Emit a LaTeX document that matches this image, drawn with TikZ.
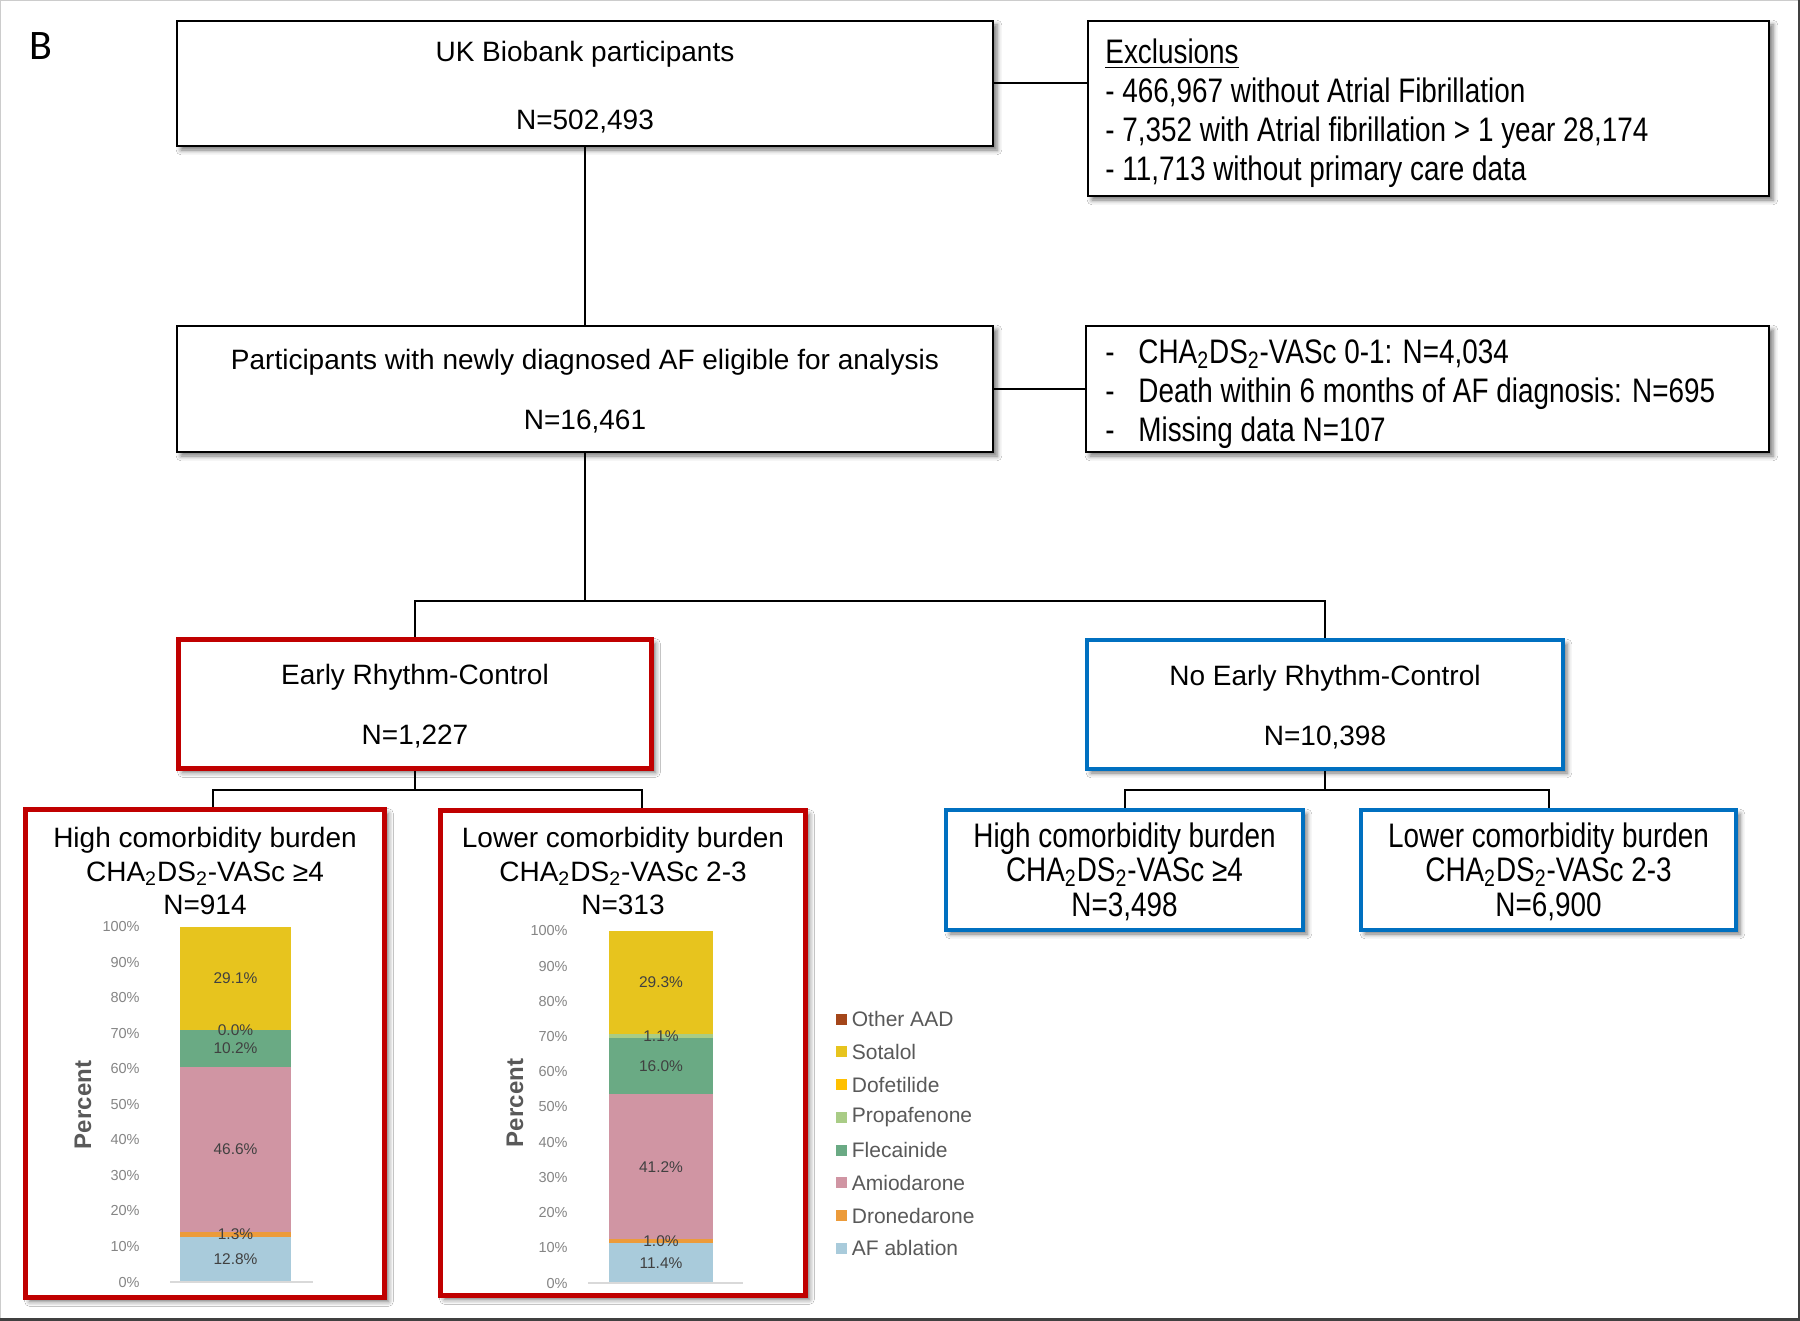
\documentclass[tikz,border=0pt]{standalone}
\usepackage{fontspec}
\setmainfont{Liberation Sans}
\newfontfamily\narrowfont[FakeStretch=0.82]{Liberation Sans}
\newfontfamily\panelfont{Carlito}
\usetikzlibrary{fit,shadows.blur}
\definecolor{redc}{HTML}{C00000}
\definecolor{bluec}{HTML}{0070C0}
\definecolor{cAbl}{HTML}{A9CBDB}
\definecolor{cDro}{HTML}{EC9B3A}
\definecolor{cAmi}{HTML}{D095A3}
\definecolor{cFle}{HTML}{6AAA84}
\definecolor{cPro}{HTML}{A9CC86}
\definecolor{cDof}{HTML}{FFC000}
\definecolor{cSot}{HTML}{E7C41E}
\definecolor{cOth}{HTML}{A4461A}
\definecolor{txtgray}{HTML}{595959}
\definecolor{tickgray}{HTML}{858585}
\definecolor{dlabc}{HTML}{404040}
\tikzset{
  shad/.style={blur shadow={shadow xshift=2pt, shadow yshift=-2pt, shadow blur radius=2.4pt, shadow opacity=55}},
  blackbox/.style={draw=black, line width=1pt, fill=white, inner sep=0pt, shad},
  redbox/.style={draw=redc, line width=2.6pt, fill=white, inner sep=0pt, shad},
  bluebox/.style={draw=bluec, line width=2.1pt, fill=white, inner sep=0pt, shad},
  conn/.style={line width=1pt, draw=black},
  regtxt/.style={font=\fontsize{14pt}{30pt}\selectfont, align=center, inner sep=0pt},
  listtxt/.style={font=\narrowfont\fontsize{17pt}{19.5pt}\selectfont, align=left, anchor=west, inner sep=0pt},
  titletxt/.style={font=\fontsize{14pt}{16.75pt}\selectfont, align=center, inner sep=0pt},
  narrowtxt/.style={font=\narrowfont\fontsize{17pt}{17.25pt}\selectfont, align=center, inner sep=0pt},
  ticklab/.style={font=\fontsize{7.25pt}{8pt}\selectfont, text=tickgray, anchor=east, inner sep=0pt},
  datalab/.style={font=\fontsize{7.75pt}{8pt}\selectfont, text=dlabc, inner sep=0pt},
  pctlab/.style={font=\bfseries\fontsize{12pt}{13pt}\selectfont, text=txtgray, rotate=90, inner sep=0pt},
  legtxt/.style={font=\fontsize{10.5pt}{12pt}\selectfont, text=txtgray, anchor=west, inner sep=0pt},
  legsq/.style={minimum size=5.5pt, inner sep=0pt},
  axisline/.style={draw=black!15, line width=0.6pt}
}
\newcommand{\two}{\textsubscript{2}}
\newcommand{\dashitem}{\makebox[16.5pt][l]{-}}
\begin{document}
\begin{tikzpicture}[x=0.5pt,y=-0.5pt]
\useasboundingbox (0,0) rectangle (1800,1321);
\fill[white] (0,0) rectangle (1800,1321);
\draw[black!20, line width=0.75pt] (0.5,1321) -- (0.5,0.5) -- (1800,0.5);
\draw[black!75, line width=1.25pt] (1798.8,0) -- (1798.8,1319.5) -- (0,1319.5);

% panel label
\node[font=\panelfont\fontsize{21pt}{24pt}\selectfont, inner sep=0pt] (panel) at (41,46) {B};

% boxes
\node[blackbox, fit={(177,21) (993,146)}] (b1) {};
\node[regtxt, font=\fontsize{14pt}{33.75pt}\selectfont] (b1t) at (585,87) {UK Biobank participants\\N=502,493};

\node[blackbox, fit={(1088,21) (1769,196)}] (excl) {};
\node[listtxt] (excltxt) at (1105,113.5)
  {\underline{Exclusions}\\- 466,967 without Atrial Fibrillation\\- 7,352 with Atrial fibrillation > 1 year 28,174\\- 11,713 without primary care data};

\node[blackbox, fit={(177,326) (993,452)}] (b2) {};
\node[regtxt] (b2t) at (585,391.5) {Participants with newly diagnosed AF eligible for analysis\\N=16,461};

\node[blackbox, fit={(1086,326) (1769,452)}] (b3) {};
\node[listtxt] (b3txt) at (1105,394)
  {\dashitem CHA\two DS\two-VASc 0-1: N=4,034\\\dashitem Death within 6 months of AF diagnosis: N=695\\\dashitem Missing data N=107};

\node[redbox, fit={(178.5,639.5) (651.5,768.5)}] (early) {};
\node[regtxt] (earlyt) at (415,706.5) {Early Rhythm-Control\\N=1,227};
\node[bluebox, fit={(1087,640) (1563,769)}] (noearly) {};
\node[regtxt] (noearlyt) at (1325,707) {No Early Rhythm-Control\\N=10,398};

\node[redbox, fit={(25.5,809.5) (384.5,1297.5)}] (r1) {};
\node[redbox, fit={(440.5,810.5) (805.5,1295.5)}] (r2) {};
\node[titletxt] (r1t) at (205,871) {High comorbidity burden\\CHA\two DS\two-VASc ≥4\\N=914};
\node[titletxt] (r2t) at (623,871) {Lower comorbidity burden\\CHA\two DS\two-VASc 2-3\\N=313};

\node[bluebox, fit={(946,810) (1303,930)}] (bl1) {};
\node[narrowtxt] (bl1t) at (1124.5,871.5) {High comorbidity burden\\CHA\two DS\two-VASc ≥4\\N=3,498};
\node[bluebox, fit={(1361,810) (1736,930)}] (bl2) {};
\node[narrowtxt] (bl2t) at (1548.5,871.5) {Lower comorbidity burden\\CHA\two DS\two-VASc 2-3\\N=6,900};

% connectors
\coordinate (j1) at (585,601);
\coordinate (j2L) at (213,790);
\coordinate (j2R) at (642,790);
\coordinate (j3) at (1325,790);
\draw[conn] (b1.east) -- (b1.east -| excl.west);
\draw[conn] (b1.south) -- (b2.north);
\draw[conn] (b2.east) -- (b3.west);
\draw[conn] (b2.south) -- (j1);
\draw[conn] (early.north) |- (j1) -| (noearly.north);
\draw[conn] (early.south) -- (early.south |- j2L);
\draw[conn] (j2L |- r1.north) -- (j2L) -- (j2R) -- (j2R |- r2.north);
\draw[conn] (noearly.south) -- (j3);
\draw[conn] (bl1.north) |- (j3) -| (bl2.north);

% chart 1
\begin{scope}[shift={(0,1282)}, yscale=-3.55]
  \fill[cAbl] (180,0) rectangle (291,12.8);
  \fill[cDro] (180,12.8) rectangle (291,14.1);
  \fill[cAmi] (180,14.1) rectangle (291,60.7);
  \fill[cFle] (180,60.7) rectangle (291,70.9);
  \fill[cSot] (180,70.9) rectangle (291,100);
  \draw[axisline] (170,0) -- (313,0);
  \foreach \p in {0,10,...,100} \node[ticklab] (c1t\p) at (140,\p) {\p\%};
  \node[datalab] (c1a) at (235.5,6.4) {12.8\%};
  \node[datalab] (c1b) at (235.5,13.45) {1.3\%};
  \node[datalab] (c1c) at (235.5,37.4) {46.6\%};
  \node[datalab] (c1d) at (235.5,65.8) {10.2\%};
  \node[datalab] (c1e) at (235.5,70.9) {0.0\%};
  \node[datalab] (c1f) at (235.5,85.45) {29.1\%};
\end{scope}
\node[pctlab] (c1p) at (83,1105) {Percent};

% chart 2
\begin{scope}[shift={(0,1283)}, yscale=-3.52]
  \fill[cAbl] (609,0) rectangle (713,11.4);
  \fill[cDro] (609,11.4) rectangle (713,12.4);
  \fill[cAmi] (609,12.4) rectangle (713,53.6);
  \fill[cFle] (609,53.6) rectangle (713,69.6);
  \fill[cPro] (609,69.6) rectangle (713,70.7);
  \fill[cSot] (609,70.7) rectangle (713,100);
  \draw[axisline] (588,0) -- (743,0);
  \foreach \p in {0,10,...,100} \node[ticklab] (c2t\p) at (568,\p) {\p\%};
  \node[datalab] (c2a) at (661,5.7) {11.4\%};
  \node[datalab] (c2b) at (661,11.9) {1.0\%};
  \node[datalab] (c2c) at (661,33.0) {41.2\%};
  \node[datalab] (c2d) at (661,61.6) {16.0\%};
  \node[datalab] (c2e) at (661,70.15) {1.1\%};
  \node[datalab] (c2f) at (661,85.35) {29.3\%};
\end{scope}
\node[pctlab] (c2p) at (515,1103) {Percent};

% legend
\foreach \c/\t [count=\k from 0] in {cOth/Other AAD, cSot/Sotalol, cDof/Dofetilide, cPro/Propafenone, cFle/Flecainide, cAmi/Amiodarone, cDro/Dronedarone, cAbl/AF ablation}{
  \node[legsq, fill=\c] (lsq\k) at (841.5,{1019+32.75*\k}) {};
  \node[legtxt] (ltx\k) at (851.5,{1019+32.75*\k}) {\t};
}
\end{tikzpicture}
\end{document}
